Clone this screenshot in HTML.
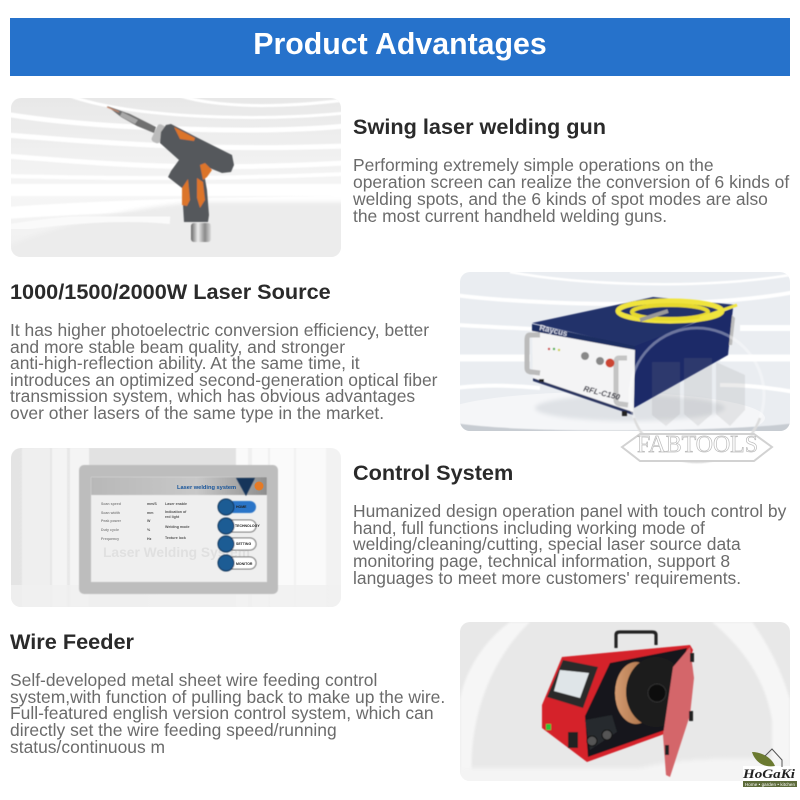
<!DOCTYPE html>
<html lang="en"><head><meta charset="utf-8"><title>Product Advantages</title>
<style>
html,body{margin:0;padding:0;background:#fff}
svg{display:block}
text{font-family:"Liberation Sans",sans-serif}
.h{font-size:21.7px;font-weight:700;fill:#2a2a2a}
.b{font-size:17.45px;fill:#6b6b6b}
</style></head><body>
<svg width="800" height="800" viewBox="0 0 800 800" xmlns="http://www.w3.org/2000/svg">
<defs>
<filter id="bl" x="-10%" y="-10%" width="120%" height="120%"><feGaussianBlur stdDeviation="2"/></filter>
<filter id="b1" x="-10%" y="-10%" width="120%" height="120%"><feGaussianBlur stdDeviation="0.5"/></filter>
<filter id="b2" x="-10%" y="-10%" width="120%" height="120%"><feGaussianBlur stdDeviation="1.1"/></filter>
<clipPath id="c1"><rect x="11" y="98" width="330" height="159" rx="10"/></clipPath>
<clipPath id="c2"><rect x="460" y="272" width="330" height="159" rx="10"/></clipPath>
<clipPath id="c3"><rect x="11" y="448" width="330" height="159" rx="10"/></clipPath>
<clipPath id="c4"><rect x="460" y="622" width="330" height="159" rx="10"/></clipPath>
<linearGradient id="g1" x1="0" y1="0" x2="0" y2="1"><stop offset="0" stop-color="#e8e8e8"/><stop offset=".6" stop-color="#f6f6f6"/><stop offset="1" stop-color="#efefef"/></linearGradient>
<linearGradient id="g3" x1="0" y1="0" x2="1" y2="0"><stop offset="0" stop-color="#e4e4e4"/><stop offset=".5" stop-color="#eeeeee"/><stop offset="1" stop-color="#f2f2f2"/></linearGradient>
<linearGradient id="chr" x1="0" y1="0" x2="1" y2="0"><stop offset="0" stop-color="#666"/><stop offset=".35" stop-color="#eee"/><stop offset=".7" stop-color="#888"/><stop offset="1" stop-color="#ddd"/></linearGradient>
<linearGradient id="copper" x1="0" y1="0" x2="1" y2="0"><stop offset="0" stop-color="#d39a70"/><stop offset=".6" stop-color="#b37a50"/><stop offset="1" stop-color="#8c5a35"/></linearGradient>
<linearGradient id="panelH" x1="0" y1="0" x2="1" y2="0"><stop offset="0" stop-color="#b8b8b8"/><stop offset=".6" stop-color="#c8c8c8"/><stop offset="1" stop-color="#8e8e8e"/></linearGradient>
</defs>
<rect width="800" height="800" fill="#fff"/>
<rect x="10" y="18" width="780" height="58" fill="#2672cb"/>
<text x="400" y="54" text-anchor="middle" font-size="30.3" font-weight="700" fill="#fff">Product Advantages</text>

<!-- Image 1 -->
<g clip-path="url(#c1)">
<rect x="11" y="98" width="330" height="159" fill="url(#g1)"/>
<g filter="url(#b1)" fill="none" stroke="#fff">
<path d="M70 96C130 118 260 122 345 113" stroke-width="3"/>
<path d="M180 96C220 108 280 108 345 100" stroke-width="3"/>
<path d="M5 114C90 128 250 135 345 126" stroke-width="5"/>
<path d="M5 135C80 140 180 152 345 146" stroke-width="5"/>
<path d="M5 156C100 163 180 172 345 163" stroke-width="5"/>
<path d="M5 176C100 178 200 180 345 174" stroke-width="4"/>
<path d="M5 190H345" stroke-width="12"/>
<path d="M5 213C80 208 160 204 345 202" stroke-width="12"/>
</g>
<path d="M10 245C70 220 150 205 200 202H345V260H10Z" fill="#ececec" filter="url(#bl)"/>
<path d="M10 228C60 220 120 215 170 220" fill="none" stroke="#fafafa" stroke-width="8" filter="url(#b1)"/>
</g>
<g filter="url(#b1)">
<path d="M107 106L130 114L156 127L154 133L137 126L121 117Z" fill="#6f6f6f"/>
<path d="M107 107L119 112" stroke="#c8886a" stroke-width="1"/>
<path d="M122 112L138 120L135 124L120 116Z" fill="#a8a8a8"/>
<rect x="154" y="124" width="9" height="19" rx="3" fill="#bbb" transform="rotate(25 158 134)"/>
<path d="M166 125L171 124L198 138L232 155L234 165L231 172L222 173L207 167L204 173L207 190L209 215L208 222L184 222L183 205L182 188L168 177L171 171L179 160L160 143L161 132Z" fill="#55585c"/>
<path d="M174 127L195 138L194 141L180 139Z" fill="#dc742a"/>
<path d="M200 165L205 163L212 170L207 177L203 180Z" fill="#dc742a"/>
<path d="M188 179L190 200L187 206L182 205L182 188Z" fill="#dc742a"/>
<path d="M197 178L203 182L205 200L200 208L197 198Z" fill="#dc742a"/>
<rect x="191" y="223" width="20" height="19" rx="3" fill="url(#chr)"/>
</g>

<text class="h" x="353" y="134">Swing laser welding gun</text>
<text class="b" x="353" y="171">Performing extremely simple operations on the</text>
<text class="b" x="353" y="188">operation screen can realize the conversion of 6 kinds of</text>
<text class="b" x="353" y="205">welding spots, and the 6 kinds of spot modes are also</text>
<text class="b" x="353" y="222">the most current handheld welding guns.</text>

<text class="h" x="10" y="299">1000/1500/2000W Laser Source</text>
<text class="b" x="10" y="336">It has higher photoelectric conversion efficiency, better</text>
<text class="b" x="10" y="353">and more stable beam quality, and stronger</text>
<text class="b" x="10" y="369">anti-high-reflection ability. At the same time, it</text>
<text class="b" x="10" y="386">introduces an optimized second-generation optical fiber</text>
<text class="b" x="10" y="402">transmission system, which has obvious advantages</text>
<text class="b" x="10" y="419">over other lasers of the same type in the market.</text>

<!-- Image 2 -->
<g clip-path="url(#c2)">
<rect x="460" y="272" width="330" height="159" fill="#eaedf1"/>
<g filter="url(#b1)" fill="none" stroke="#fff">
<path d="M510 272C580 285 700 290 790 275" stroke-width="2.5"/>
<path d="M455 295C530 305 700 310 795 292" stroke-width="4"/>
<path d="M455 325C520 328 560 332 640 330" stroke-width="4"/>
<path d="M740 328H795" stroke-width="6"/>
<path d="M455 358H530" stroke-width="7"/>
<path d="M720 358H795" stroke-width="7"/>
<path d="M455 388C480 385 510 385 540 388" stroke-width="4"/>
<path d="M720 385C750 385 770 388 795 392" stroke-width="4"/>
</g>
<ellipse cx="600" cy="418" rx="165" ry="26" fill="#f5f6f8"/>
<path d="M455 423C520 434 730 432 795 423V435H455Z" fill="#c7ccd2" filter="url(#b1)"/>
<ellipse cx="630" cy="408" rx="95" ry="13" fill="#dfe2e6" filter="url(#bl)"/>
</g>
<g filter="url(#b1)">
<path d="M532 323L653 297L737 305L635 347Z" fill="#24336b"/>
<path d="M532 324L635 346L635 351L532 332Z" fill="#1f2d62"/>
<path d="M532 331L635 350L633 415L533 378Z" fill="#f4f4f5"/>
<path d="M635 346L733 308L728 355L634 408Z" fill="#1d2a68"/>
<path d="M533 378L633 412L633 415L533 381Z" fill="#2a3560"/>
<ellipse cx="670" cy="311" rx="52" ry="10" fill="none" stroke="#f0e43c" stroke-width="5"/>
<ellipse cx="670" cy="312" rx="38" ry="7" fill="none" stroke="#e6d92e" stroke-width="4"/>
<path d="M700 318L737 305" stroke="#f0e43c" stroke-width="3"/>
<path d="M640 320L668 311" stroke="#999" stroke-width="4"/>
<text x="539" y="330" font-size="8" font-weight="700" fill="#d8dcea" transform="rotate(13 539 330)">Raycus</text>
<path d="M540 335H530Q527 335 527 340V368Q527 372 532 372L540 373" fill="none" stroke="#bbb" stroke-width="5"/>
<path d="M627 358H619Q616 358 616 362V400Q616 404 621 404L628 405" fill="none" stroke="#c4c4c4" stroke-width="5"/>
<path d="M732 315L735 318L732 345L729 345Z" fill="#bbb"/>
<circle cx="585" cy="356" r="4" fill="#888"/><circle cx="600" cy="361" r="4" fill="#888"/>
<circle cx="610" cy="363" r="4.5" fill="#c43"/>
<circle cx="549" cy="349" r="1.2" fill="#c33"/><circle cx="554" cy="349" r="1.2" fill="#3a3"/><circle cx="559" cy="350" r="1.2" fill="#cc3"/>
<text x="583" y="391" font-size="8" font-weight="700" font-style="italic" fill="#223" transform="rotate(14 583 391)">RFL-C150</text>
<rect x="539" y="379" width="5" height="3" fill="#222"/><rect x="622" y="411" width="5" height="5" fill="#222"/>
</g>
<!-- watermark -->
<g filter="url(#b1)">
<circle cx="697" cy="395" r="67" fill="none" stroke="#fff" stroke-width="3" opacity=".35"/>
<path d="M697 462A67 67 0 0 0 760 418" fill="none" stroke="#dcdcdc" stroke-width="2.5"/>
<path d="M634 418A67 67 0 0 0 697 462" fill="none" stroke="#dcdcdc" stroke-width="2.5"/>
<path d="M652 362V415L666 426L680 414V362Z M684 358V414L698 426L712 414V358Z M716 362V414L730 426L745 410V375Z" fill="#888" opacity=".16"/>
</g>
<path d="M622 447L640 434H754L772 447L754 461H640Z" fill="#fff" stroke="#d2d2d2" stroke-width="2"/>
<text x="637" y="452" font-size="24" textLength="121" lengthAdjust="spacingAndGlyphs" style="font-family:'Liberation Serif',serif" fill="#fff" stroke="#bcbcbc" stroke-width=".7">FABTOOLS</text>

<!-- Image 3 -->
<g clip-path="url(#c3)">
<rect x="11" y="448" width="330" height="159" fill="url(#g3)"/>
<g filter="url(#b1)" fill="#fafafa">
<rect x="22" y="448" width="28" height="159" opacity=".5"/>
<rect x="52" y="448" width="15" height="159" opacity=".7"/>
<rect x="70" y="448" width="19" height="159" opacity=".7"/>
<rect x="236" y="448" width="12" height="159"/>
<rect x="252" y="448" width="16" height="159"/>
<rect x="270" y="448" width="24" height="159"/>
<rect x="296" y="448" width="30" height="159"/>
<rect x="89" y="448" width="147" height="20" fill="#e2e2e2"/>
</g>
<rect x="11" y="585" width="330" height="22" fill="#f0f0f0" opacity=".8"/>
</g>
<rect x="79" y="465" width="199" height="129" rx="5" fill="#bdbdbd" filter="url(#b1)"/>
<rect x="91" y="477" width="176" height="105" fill="#efefef" filter="url(#b1)"/>
<rect x="91" y="477" width="176" height="18" fill="url(#panelH)" filter="url(#b1)"/>
<path d="M236 478H255L246 496Z" fill="#17345a" filter="url(#b1)"/>
<circle cx="259" cy="486" r="4.5" fill="#e57a25"/>
<text x="177" y="489" font-size="5.7" font-weight="700" fill="#17549a">Laser welding system</text>
<g font-size="3.6" font-weight="700" fill="#555">
<text x="101" y="505" fill="#888">Scan speed</text><text x="147" y="505">mm/S</text><text x="165" y="505">Laser enable</text>
<text x="101" y="514" fill="#888">Scan width</text><text x="147" y="514">mm</text><text x="165" y="513">Indication of</text><text x="165" y="518">red light</text>
<text x="101" y="522" fill="#888">Peak power</text><text x="147" y="522">W</text>
<text x="101" y="531" fill="#888">Duty cycle</text><text x="147" y="531">%</text><text x="165" y="528">Welding mode</text>
<text x="101" y="540" fill="#888">Frequency</text><text x="147" y="540">Hz</text><text x="165" y="539">Texture lock</text>
</g>
<text x="103" y="557" font-size="13.8" font-weight="700" fill="#e0e0e0">Laser Welding System</text>
<g filter="url(#b1)">
<rect x="224" y="501" width="32" height="12" rx="6" fill="#2a74c8"/>
<rect x="224" y="520" width="32" height="12" rx="6" fill="#fff" stroke="#666"/>
<rect x="224" y="538" width="32" height="12" rx="6" fill="#fff" stroke="#666"/>
<rect x="224" y="557" width="32" height="12" rx="6" fill="#fff" stroke="#666"/>
<circle cx="226" cy="507" r="8" fill="#1a5b94" stroke="#102f52"/>
<circle cx="226" cy="526" r="8" fill="#1a5b94" stroke="#102f52"/>
<circle cx="226" cy="544" r="8" fill="#1a5b94" stroke="#102f52"/>
<circle cx="226" cy="563" r="8" fill="#1a5b94" stroke="#102f52"/>
</g>
<g font-size="3.5" font-weight="700" fill="#222">
<text x="236" y="508">HOME</text><text x="235" y="527">TECHNOLOGY</text><text x="236" y="545">SETTING</text><text x="236" y="565">MONITOR</text>
</g>

<text class="h" x="353" y="480">Control System</text>
<text class="b" x="353" y="517">Humanized design operation panel with touch control by</text>
<text class="b" x="353" y="534">hand, full functions including working mode of</text>
<text class="b" x="353" y="550">welding/cleaning/cutting, special laser source data</text>
<text class="b" x="353" y="567">monitoring page, technical information, support 8</text>
<text class="b" x="353" y="584">languages to meet more customers' requirements.</text>

<text class="h" x="10" y="649">Wire Feeder</text>
<text class="b" x="10" y="686">Self-developed metal sheet wire feeding control</text>
<text class="b" x="10" y="703">system,with function of pulling back to make up the wire.</text>
<text class="b" x="10" y="719">Full-featured english version control system, which can</text>
<text class="b" x="10" y="736">directly set the wire feeding speed/running</text>
<text class="b" x="10" y="753">status/continuous m</text>

<!-- Image 4 -->
<g clip-path="url(#c4)">
<rect x="460" y="622" width="330" height="159" fill="#e8e8e8"/>
<path d="M510 622C485 640 465 670 460 700V781H472C468 720 490 660 530 622Z" fill="#f6f6f6" filter="url(#b2)"/>
<path d="M712 622C745 650 765 680 772 720V790H790V700C780 665 765 640 752 622Z" fill="#f6f6f6" filter="url(#b2)"/>
<path d="M460 790V768H640C680 758 730 757 790 760V790Z" fill="#f4f4f4" filter="url(#bl)"/>
</g>
<g filter="url(#b1)">
<path d="M616 648V635Q616 632 620 632H652Q656 632 656 635V645" fill="none" stroke="#222" stroke-width="3.2"/>
<path d="M562 657L690 645L693 650L667 733L587 762L542 728L542 705Z" fill="#d5232a"/>
<path d="M563 660L598 667L583 708L547 697Z" fill="#2a2a2a"/>
<path d="M560 670L589 673L580 698L554 691Z" fill="#dfe5e8"/>
<path d="M610 663L687 648L665 730L588 757L585 716Z" fill="#17171a"/>
<ellipse cx="636" cy="693" rx="21" ry="31" fill="url(#copper)"/>
<ellipse cx="656" cy="692" rx="30" ry="35" fill="#1d1d1f"/>
<circle cx="657" cy="693" r="9" fill="#0b0b0b" stroke="#333"/>
<path d="M690 647L694 678L690 715L670 777L666 775L663 735L673 667Z" fill="#d4666a"/>
<path d="M692 653V662M691 711V721M667 745V755" stroke="#222" stroke-width="4"/>
<path d="M585 720L612 715L617 732L590 750Z" fill="#26292d"/>
<circle cx="592" cy="741" r="5" fill="#555" stroke="#111"/>
<circle cx="607" cy="735" r="5" fill="#555" stroke="#111"/>
<rect x="546" y="724" width="5" height="6" fill="#29c23a"/>
<rect x="568" y="732" width="10" height="16" fill="#222"/>
</g>
<!-- Hogaki -->
<rect x="743" y="766" width="54" height="21" fill="#fff" opacity=".95"/>
<path d="M752 752C762 752 772 758 775 766C764 768 755 762 752 752Z" fill="#6b7a30"/>
<path d="M765 756L772 749L782 760V767" fill="none" stroke="#555" stroke-width="1"/>
<text x="743" y="778" font-size="13" font-weight="700" font-style="italic" textLength="52" lengthAdjust="spacingAndGlyphs" style="font-family:'Liberation Serif',serif" fill="#222">HoGaKi</text>
<rect x="743" y="781" width="54" height="6" fill="#5d6b3a"/>
<text x="745" y="786" font-size="4.5" fill="#fff" textLength="50">Home • garden • kitchen</text>
</svg>
</body></html>
